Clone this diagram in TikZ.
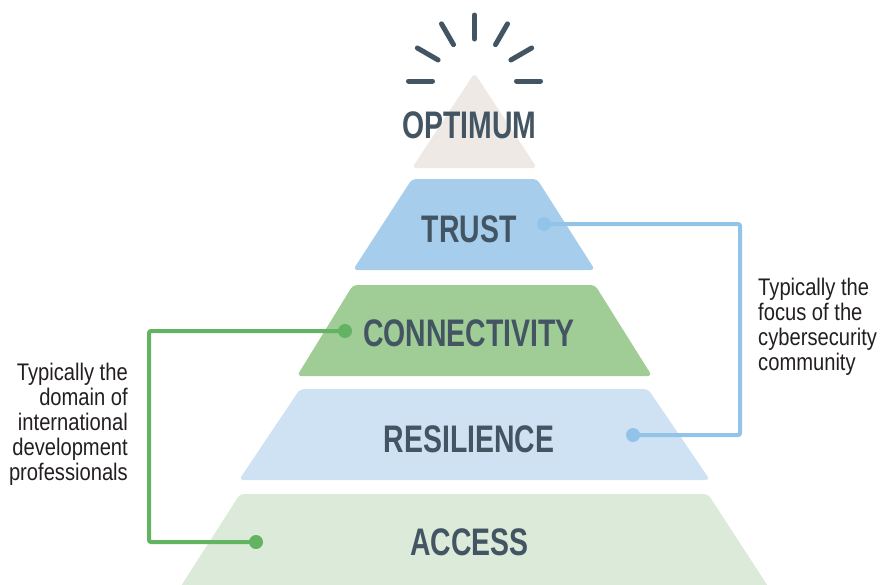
\documentclass[tikz,border=0pt]{standalone}
\usepackage{fontspec}
\setmainfont{Liberation Sans}
\newfontfamily\levelfont{Liberation Sans}[FakeStretch=0.74]
\newfontfamily\notefont{Liberation Sans}[FakeStretch=0.84]

\definecolor{slate}{HTML}{435563}
\definecolor{optimumfill}{HTML}{EEE9E4}
\definecolor{trustfill}{HTML}{A7CDEC}
\definecolor{connfill}{HTML}{A0CC96}
\definecolor{resfill}{HTML}{CFE2F3}
\definecolor{accessfill}{HTML}{DCEBD9}
\definecolor{blueline}{HTML}{92C3E8}
\definecolor{greenline}{HTML}{62B462}
\definecolor{notetext}{HTML}{231F20}

\tikzset{
  level/.style={fill=#1, rounded corners=4pt},
  levellabel/.style={anchor=base, inner sep=0pt, text=slate,
    font=\levelfont\bfseries\fontsize{38.4}{40}\selectfont},
  note/.style={inner sep=0pt, text=notetext,
    font=\notefont\fontsize{24}{25}\selectfont},
  ray/.style={draw=slate, line width=5pt, line cap=round},
  dot/.style={circle, fill=#1, minimum size=14pt, inner sep=0pt},
  link/.style={draw=#1, line width=4pt, rounded corners=2pt},
}

\begin{document}
\begin{tikzpicture}[x=1pt, y=-1pt]
\useasboundingbox (0,0) rectangle (880,584);

% pyramid tiers
\fill[level=optimumfill] (412,168) -- (474.5,73) -- (537,168) -- cycle;
\fill[level=trustfill] (412,179) -- (537,179) -- (595,270) -- (353,270) -- cycle;
\fill[level=connfill] (353,285) -- (595,285) -- (652,376) -- (297,376) -- cycle;
\fill[level=resfill] (300,389) -- (648,389) -- (710,480) -- (239,480) -- cycle;
\begin{scope}
  \clip (0,0) rectangle (880,584);
  \fill[level=accessfill] (240,494) -- (708,494) -- (777,600) -- (172,600) -- cycle;
\end{scope}

% burst above the apex
\foreach \a in {0,30,...,180}
  \draw[ray] (474.5,81) ++(\a:42pt) -- ++(\a:24pt);

% tier labels
\node[levellabel] (optimum) at (469.5,138) {OPTIMUM};
\node[levellabel] (trust) at (469,242) {TRUST};
\node[levellabel] (connectivity) at (469,346) {CONNECTIVITY};
\node[levellabel] (resilience) at (469,452) {RESILIENCE};
\node[levellabel] (access) at (469.5,555) {ACCESS};

% bracket markers
\node[dot=blueline] (trustdot) at (544,224) {};
\node[dot=blueline] (resdot) at (633,435) {};
\node[dot=greenline] (conndot) at (345,331) {};
\node[dot=greenline] (accessdot) at (256,542) {};
\coordinate (bluebend) at (740,330);
\coordinate (greenbend) at (149,440);

\draw[link=blueline] (trustdot.center) -| (bluebend) |- (resdot.center);
\draw[link=greenline] (conndot.center) -| (greenbend) |- (accessdot.center);

% side notes
\node[note, anchor=north west, align=left] (focusnote) at (758,278)
  {Typically the\\focus of the\\cybersecurity\\community};
\node[note, anchor=north east, align=right] (domainnote) at (128,363)
  {Typically the\\domain of\\international\\development\\professionals};
\end{tikzpicture}
\end{document}
